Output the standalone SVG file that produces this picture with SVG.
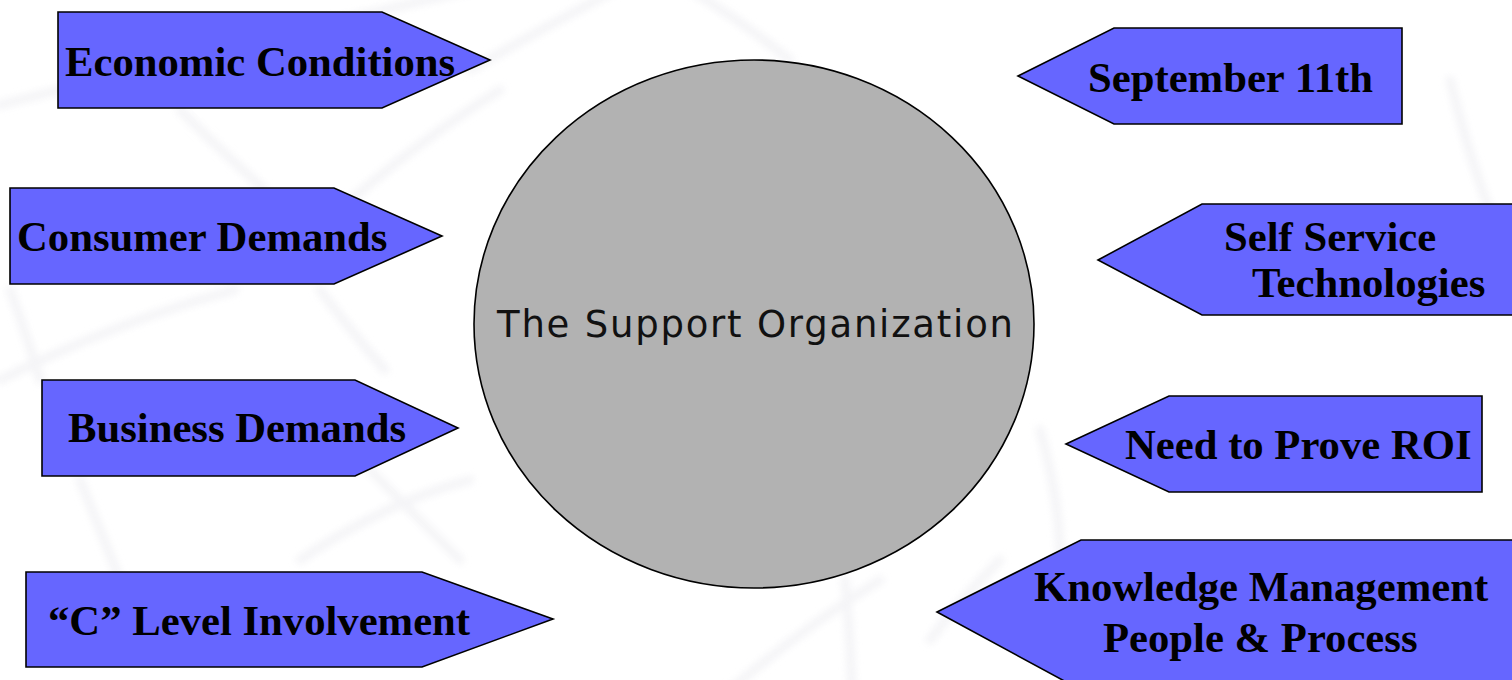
<svg xmlns="http://www.w3.org/2000/svg" width="1512" height="680" viewBox="0 0 1512 680">
  <style>
    .tag { fill: #6666FF; stroke: #000; stroke-width: 1.6; stroke-linejoin: miter; }
    .lbl { font-family: "Liberation Serif", "Times New Roman", serif; font-weight: bold; font-size: 42.7px; fill: #000; }
    .hub { fill: #B2B2B2; stroke: #000; stroke-width: 1.6; }
    .hubtxt { font-family: "DejaVu Sans", Verdana, sans-serif; font-size: 37px; fill: #111; }
    .mesh { fill: none; stroke: #F1F1F4; stroke-width: 9; stroke-linecap: round; }
  </style>
  <defs>
    <filter id="soft" x="-10%" y="-10%" width="120%" height="120%">
      <feGaussianBlur stdDeviation="3.5"/>
    </filter>
  </defs>

  <rect width="1512" height="680" fill="#FFFFFF"/>

  <!-- faint wire-mesh backdrop -->
  <g id="backdrop" class="mesh" filter="url(#soft)" opacity="0.75">
    <path d="M0 105 Q 250 40 470 -10"/>
    <path d="M470 70 Q 540 30 615 -10"/>
    <path d="M690 -10 Q 740 20 790 60"/>
    <path d="M180 110 Q 220 150 265 190"/>
    <path d="M500 90 Q 420 140 345 205"/>
    <path d="M0 380 Q 120 320 235 290"/>
    <path d="M320 290 Q 350 330 385 370"/>
    <path d="M10 290 Q 25 330 40 380"/>
    <path d="M80 480 Q 100 530 120 580"/>
    <path d="M370 470 Q 420 520 460 560"/>
    <path d="M300 560 Q 390 500 470 480"/>
    <path d="M730 690 Q 800 630 880 580"/>
    <path d="M845 580 Q 850 630 852 690"/>
    <path d="M1040 430 Q 1060 500 1060 560"/>
    <path d="M1000 560 Q 960 600 930 640"/>
    <path d="M1450 80 Q 1480 200 1512 260"/>
  </g>

  <!-- central hub -->
  <g id="hub">
    <ellipse class="hub" cx="754" cy="324" rx="280" ry="264"/>
    <text class="hubtxt" x="497" y="337" textLength="516" lengthAdjust="spacing">The Support Organization</text>
  </g>

  <!-- left-hand pentagons pointing right -->
  <g id="economic">
    <polygon class="tag" points="58,12 382,12 490,60 382,108 58,108"/>
    <text class="lbl" x="65" y="76">Economic Conditions</text>
  </g>
  <g id="consumer">
    <polygon class="tag" points="10,188 334,188 442,236 334,284 10,284"/>
    <text class="lbl" x="17" y="251">Consumer Demands</text>
  </g>
  <g id="business">
    <polygon class="tag" points="42,380 355,380 458,428 355,476 42,476"/>
    <text class="lbl" x="68" y="442">Business Demands</text>
  </g>
  <g id="clevel">
    <polygon class="tag" points="26,572 422,572 553,619 422,667 26,667"/>
    <text class="lbl" x="48" y="635">“C” Level Involvement</text>
  </g>

  <!-- right-hand pentagons pointing left -->
  <g id="sept11">
    <polygon class="tag" points="1018,76 1114,28 1402,28 1402,124 1114,124"/>
    <text class="lbl" x="1088" y="92">September 11th</text>
  </g>
  <g id="selfservice">
    <polygon class="tag" points="1098,260 1202,204 1513,204 1513,315 1202,315"/>
    <text class="lbl" x="1224" y="251">Self Service</text>
    <text class="lbl" x="1252" y="297">Technologies</text>
  </g>
  <g id="roi">
    <polygon class="tag" points="1066,444 1169,396 1482,396 1482,492 1169,492"/>
    <text class="lbl" x="1125" y="459">Need to Prove ROI</text>
  </g>
  <g id="knowledge">
    <polygon class="tag" points="937,612 1081,540 1513,540 1513,690 1081,690"/>
    <text class="lbl" x="1034" y="601">Knowledge Management</text>
    <text class="lbl" x="1103" y="652">People &amp; Process</text>
  </g>

  <!-- no connectors: the pentagons themselves point at the hub -->
  <g id="connectors"/>
</svg>
